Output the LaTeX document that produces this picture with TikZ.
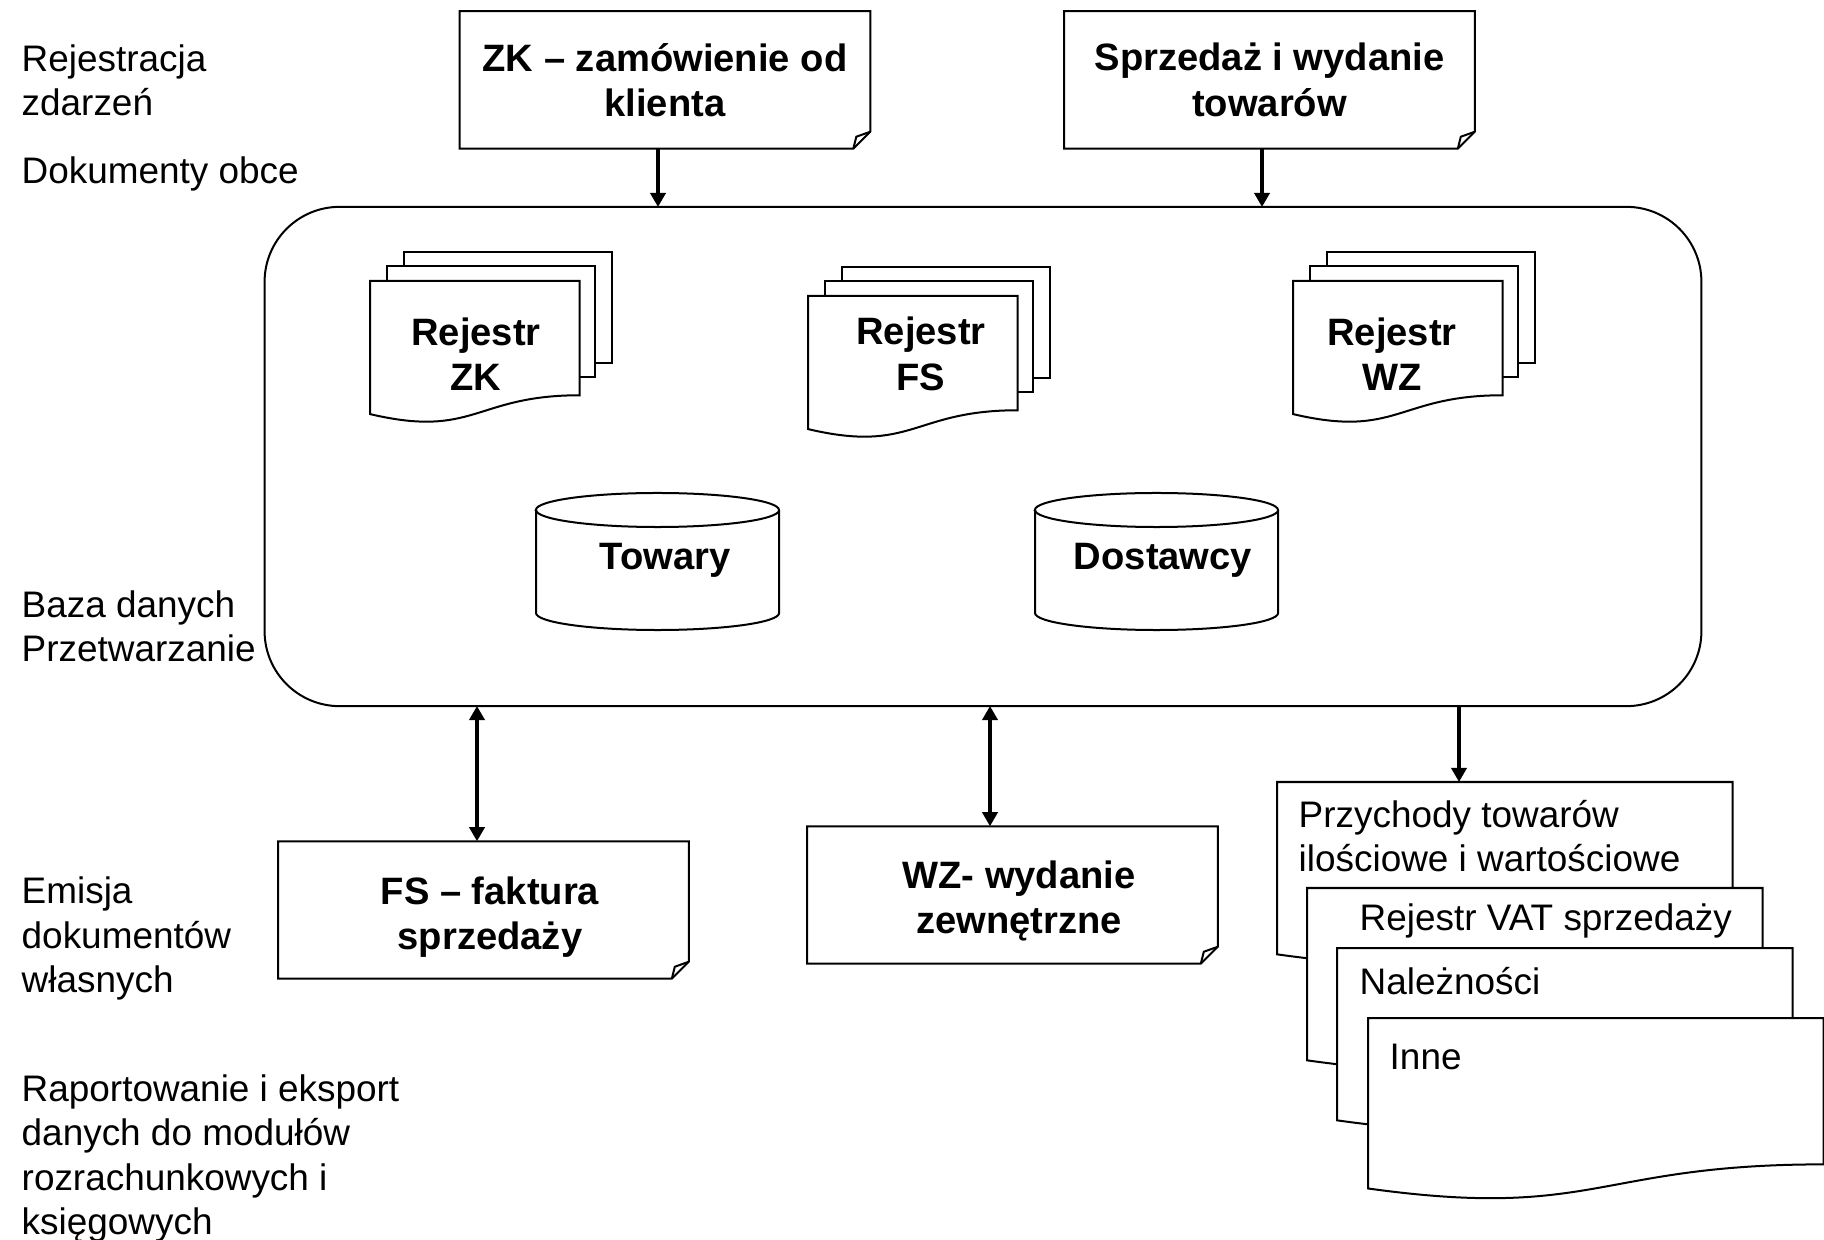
\documentclass[tikz,border=0pt]{standalone}
\usepackage{fontspec}
\setmainfont{Liberation Sans}
\usetikzlibrary{arrows.meta,calc}

\tikzset{
  docline/.style={draw, line width=0.02cm, fill=white},
  arr/.style={line width=0.04cm, -{Triangle[length=0.14cm,width=0.15cm]}},
  dblarr/.style={line width=0.04cm, {Triangle[length=0.14cm,width=0.15cm]}-{Triangle[length=0.14cm,width=0.15cm]}},
  side/.style={anchor=west, align=left, inner sep=0pt},
  title/.style={align=center, font=\fontsize{10.85}{12.9}\selectfont\bfseries, inner sep=0pt},
  fdoc/.style={minimum width=4.09cm, minimum height=1.36cm, inner sep=0pt},
  regsheet/.style={anchor=north west, minimum width=2.08cm, minimum height=1.41cm, inner sep=0pt},
  sheet/.style={anchor=north west, minimum width=4.54cm, minimum height=1.83cm, inner sep=0pt},
}

% document with folded corner
\newcommand{\foldout}[1]{%
  \draw[line width=0.02cm] (#1.north west) -- (#1.north east) -- ([yshift=0.17cm]#1.south east)
    -- ([xshift=-0.17cm]#1.south east) -- (#1.south west) -- cycle;
  \draw[line width=0.02cm] ([xshift=-0.17cm]#1.south east) -- ([xshift=-0.14cm,yshift=0.12cm]#1.south east)
    -- ([yshift=0.17cm]#1.south east);
}
% document with wavy bottom
\newcommand{\waveout}[1]{%
  \draw[docline] (#1.north west) -- (#1.north east) -- ($(#1.north east)!0.802!(#1.south east)$)
    .. controls ($(#1.north)!0.802!(#1.south)$) and ($(#1.north)!1.1075!(#1.south)$)
    .. ($(#1.north west)!0.934!(#1.south west)$) -- cycle;
}
% stack of three registers
\newcommand{\regstack}[3]{%
  \draw[docline] (#2+34,#3-29) rectangle ++(208,111);
  \draw[docline] (#2+17,#3-14.5) rectangle ++(208,111);
  \node[regsheet] (#1) at (#2,#3) {};
  \waveout{#1}
}
% database cylinder
\newcommand{\dbcyl}[2]{%
  \draw[docline] (#1-121.5,#2+17) -- (#1-121.5,#2+120)
    arc[start angle=180, end angle=360, x radius=1.215cm, y radius=0.17cm]
    -- (#1+121.5,#2+17)
    arc[start angle=0, end angle=180, x radius=1.215cm, y radius=0.17cm] -- cycle;
  \draw[line width=0.02cm] (#1-121.5,#2+17)
    arc[start angle=180, end angle=360, x radius=1.215cm, y radius=0.17cm];
}

\begin{document}
\begin{tikzpicture}[x=0.01cm, y=-0.01cm, font=\fontsize{10.5}{12.6}\selectfont]
    \fill[white] (0,0) rectangle (1824,1240);
    \useasboundingbox (0,0) rectangle (1824,1240);

    % side labels
    \node[side] (rejestracja) at (21,80) {Rejestracja\\zdarzeń};
    \node[side] (obce) at (21,174) {Dokumenty obce};
    \node[side] (baza) at (21,626) {Baza danych\\Przetwarzanie};
    \node[side] (emisja) at (21,938.5) {Emisja\\dokumentów\\własnych};
    \node[side] (raport) at (21,1158.5) {Raportowanie i eksport\\danych do modułów\\rozrachunkowych i\\księgowych};

    % incoming documents
    \node[title, fdoc] (zk) at (665,80) {ZK – zamówienie od\\klienta};
    \foldout{zk}
    \node[title, fdoc] (sprz) at (1269.5,80) {Sprzedaż i wydanie\\towarów};
    \foldout{sprz}

    % database
    \node[draw, line width=0.02cm, rounded corners=0.75cm, minimum width=14.36cm, minimum height=4.99cm, inner sep=0pt] (base) at (983,456.5) {};

    \regstack{rzk}{370}{281}
    \node[title] (rzktxt) at (476,354) {Rejestr\\ZK};
    \regstack{rfs}{808}{296}
    \node[title] (rfstxt) at (921,354) {Rejestr\\FS};
    \regstack{rwz}{1293}{281}
    \node[title] (rwztxt) at (1392,354) {Rejestr\\WZ};

    \dbcyl{657.5}{493}
    \node[title] (towary) at (665,560) {Towary};
    \dbcyl{1156.5}{493}
    \node[title] (dostawcy) at (1163,560) {Dostawcy};

    % own documents
    \node[title, fdoc] (fs) at (483.5,910) {};
    \node[title] (fstxt) at (490,917) {FS – faktura\\sprzedaży};
    \foldout{fs}
    \node[title, fdoc] (wz) at (1012.5,895) {};
    \node[title] (wztxt) at (1019,901) {WZ- wydanie\\zewnętrzne};
    \foldout{wz}

    % reports
    \node[sheet] (s1) at (1277,782) {};
    \waveout{s1}
    \node[side] (przych) at (1298,836) {Przychody towarów\\ilościowe i wartościowe};
    \node[sheet] (s2) at (1307,888) {};
    \waveout{s2}
    \node[side] (vat) at (1359,921) {Rejestr VAT sprzedaży};
    \node[sheet] (s3) at (1337,948) {};
    \waveout{s3}
    \node[side] (nalez) at (1359,981) {Należności};
    \node[sheet, minimum height=1.81cm] (s4) at (1368,1018) {};
    \waveout{s4}
    \node[side] (inne) at (1389,1057) {Inne};

    % connectors
    \coordinate (inzk) at (658,207);
    \coordinate (insp) at (1262,207);
    \coordinate (outfs) at (477,706);
    \coordinate (outwz) at (990,706);
    \coordinate (outrep) at (1459,706);
    \draw[arr] (zk.south -| inzk) -- (inzk);
    \draw[arr] (sprz.south -| insp) -- (insp);
    \draw[dblarr] (fs.north -| outfs) -- (outfs);
    \draw[dblarr] (wz.north -| outwz) -- (outwz);
    \draw[arr] (outrep) -- (outrep |- s1.north);
\end{tikzpicture}
\end{document}
